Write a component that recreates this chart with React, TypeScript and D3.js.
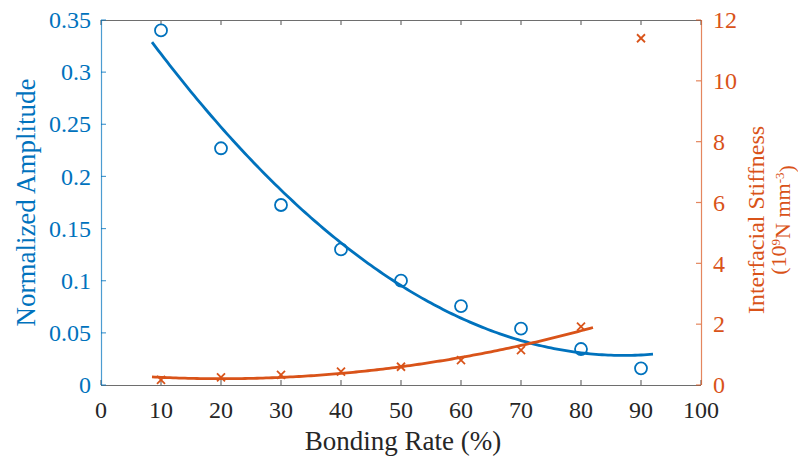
import React from "react";
import * as d3 from "d3";

// Bonding rate (%) at which each specimen was measured
const bondingRate = [10, 20, 30, 40, 50, 60, 70, 80, 90];
// Normalized amplitude (left axis)
const amplitude = [0.34, 0.227, 0.1726, 0.13, 0.1, 0.0757, 0.054, 0.0345, 0.016];
// Interfacial stiffness, 10^9 N mm^-3 (right axis)
const stiffness = [0.17, 0.25, 0.33, 0.44, 0.6, 0.82, 1.15, 1.92, 11.4];

const xTicks = [0, 10, 20, 30, 40, 50, 60, 70, 80, 90, 100];
const leftTicks = [0, 0.05, 0.1, 0.15, 0.2, 0.25, 0.3, 0.35];
const leftTickLabels = ["0", "0.05", "0.1", "0.15", "0.2", "0.25", "0.3", "0.35"];
const rightTicks = [0, 2, 4, 6, 8, 10, 12];

const W = 798;
const H = 458;
const M = { left: 101, right: 701, top: 20, bottom: 385 };

const BLUE = "#0072BD";
const ORANGE = "#D95319";
const font = { fontFamily: '"Liberation Serif", "Times New Roman", serif' };

// Least-squares quadratic fit y = a x^2 + b x + c
function polyfit2(xs: number[], ys: number[]) {
  const n = xs.length;
  const mx = d3.mean(xs) as number;
  const t = xs.map((x) => x - mx);
  let s1 = 0, s2 = 0, s3 = 0, s4 = 0, sy = 0, sty = 0, st2y = 0;
  t.forEach((ti, i) => {
    s1 += ti; s2 += ti * ti; s3 += ti ** 3; s4 += ti ** 4;
    sy += ys[i]; sty += ti * ys[i]; st2y += ti * ti * ys[i];
  });
  // Normal equations solved with Cramer's rule
  const A = [
    [s4, s3, s2],
    [s3, s2, s1],
    [s2, s1, n],
  ];
  const B = [st2y, sty, sy];
  const det = (m: number[][]) =>
    m[0][0] * (m[1][1] * m[2][2] - m[1][2] * m[2][1]) -
    m[0][1] * (m[1][0] * m[2][2] - m[1][2] * m[2][0]) +
    m[0][2] * (m[1][0] * m[2][1] - m[1][1] * m[2][0]);
  const D = det(A);
  const coef = [0, 1, 2].map((k) => {
    const Mk = A.map((row, r) => row.map((v, c) => (c === k ? B[r] : v)));
    return det(Mk) / D;
  });
  return (x: number) => coef[0] * (x - mx) ** 2 + coef[1] * (x - mx) + coef[2];
}

export default function App() {
  const x = d3.scaleLinear().domain([0, 100]).range([M.left, M.right]);
  const yL = d3.scaleLinear().domain([0, 0.35]).range([M.bottom, M.top]);
  const yR = d3.scaleLinear().domain([0, 12]).range([M.bottom, M.top]);

  const fitA = polyfit2(bondingRate, amplitude);
  const fitS = polyfit2(bondingRate.slice(0, 8), stiffness.slice(0, 8));

  const curveA = d3.range(8.5, 92.01, 0.5).map((v) => [v, fitA(v)] as [number, number]);
  const curveS = d3.range(8.5, 82.01, 0.5).map((v) => [v, fitS(v)] as [number, number]);

  const lineA = d3.line<[number, number]>().x((d) => x(d[0])).y((d) => yL(d[1]));
  const lineS = d3.line<[number, number]>().x((d) => x(d[0])).y((d) => yR(d[1]));

  const tickLen = 5;
  const cy = (M.top + M.bottom) / 2;
  const tickFs = 24;
  const labelFs = 27;

  return (
    <svg width={W} height={H} style={{ position: "absolute", left: 0, top: 0, background: "#fff" }}>
      {/* top and bottom axis lines */}
      <line x1={M.left} x2={M.right} y1={M.bottom + 0.5} y2={M.bottom + 0.5} stroke="#6e6e6e" strokeWidth={1.2} />
      <line x1={M.left} x2={M.right} y1={M.top + 0.5} y2={M.top + 0.5} stroke="#6e6e6e" strokeWidth={1.2} />
      {xTicks.map((t) => (
        <g key={"xt" + t}>
          <line x1={x(t)} x2={x(t)} y1={M.bottom} y2={M.bottom - tickLen} stroke="#6e6e6e" strokeWidth={1.2} />
          <line x1={x(t)} x2={x(t)} y1={M.top} y2={M.top + tickLen} stroke="#6e6e6e" strokeWidth={1.2} />
          <text x={x(t)} y={418} textAnchor="middle" fontSize={tickFs} fill="#262626" style={font}>
            {String(t)}
          </text>
        </g>
      ))}
      <text x={403} y={450} textAnchor="middle" fontSize={labelFs} fill="#262626" style={font}>
        Bonding Rate (%)
      </text>

      {/* left axis */}
      <line x1={M.left + 0.5} x2={M.left + 0.5} y1={M.top} y2={M.bottom} stroke={BLUE} strokeOpacity={0.7} strokeWidth={1.2} />
      {leftTicks.map((t, i) => (
        <g key={"yl" + t}>
          <line x1={M.left} x2={M.left + tickLen} y1={yL(t)} y2={yL(t)} stroke={BLUE} strokeOpacity={0.7} strokeWidth={1.2} />
          <text x={91} y={yL(t) + 8.2} textAnchor="end" fontSize={tickFs} fill={BLUE} style={font}>
            {leftTickLabels[i]}
          </text>
        </g>
      ))}
      <text
        transform={`translate(35,${cy}) rotate(-90)`}
        textAnchor="middle"
        fontSize={labelFs}
        fill={BLUE}
        style={font}
      >
        Normalized Amplitude
      </text>

      {/* right axis */}
      <line x1={M.right + 0.5} x2={M.right + 0.5} y1={M.top} y2={M.bottom} stroke={ORANGE} strokeOpacity={0.7} strokeWidth={1.2} />
      {rightTicks.map((t) => (
        <g key={"yr" + t}>
          <line x1={M.right} x2={M.right - tickLen} y1={yR(t)} y2={yR(t)} stroke={ORANGE} strokeOpacity={0.7} strokeWidth={1.2} />
          <text x={713} y={yR(t) + 8.2} textAnchor="start" fontSize={tickFs} fill={ORANGE} style={font}>
            {String(t)}
          </text>
        </g>
      ))}
      <text
        transform={`translate(764,220) rotate(-90)`}
        textAnchor="middle"
        fontSize={24}
        fill={ORANGE}
        style={font}
      >
        Interfacial Stiffness
      </text>
      <text
        transform={`translate(786,220) rotate(-90)`}
        textAnchor="middle"
        fontSize={22}
        fill={ORANGE}
        style={font}
      >
        (10
        <tspan dy="-0.45em" fontSize={13}>9</tspan>
        <tspan dy="0.45em">N mm</tspan>
        <tspan dy="-0.45em" fontSize={13}>-3</tspan>
        <tspan dy="0.45em">)</tspan>
      </text>

      {/* fitted curves */}
      <path d={lineA(curveA) || ""} fill="none" stroke={BLUE} strokeWidth={2.8} />
      <path d={lineS(curveS) || ""} fill="none" stroke={ORANGE} strokeWidth={2.8} />

      {/* measured amplitudes */}
      {bondingRate.map((b, i) => (
        <circle key={"c" + b} cx={x(b)} cy={yL(amplitude[i])} r={6} fill="none" stroke={BLUE} strokeWidth={1.8} />
      ))}
      {/* measured stiffness */}
      {bondingRate.map((b, i) => {
        const px = x(b);
        const py = yR(stiffness[i]);
        const s = 4;
        return (
          <g key={"x" + b} stroke={ORANGE} strokeWidth={1.8}>
            <line x1={px - s} y1={py - s} x2={px + s} y2={py + s} />
            <line x1={px - s} y1={py + s} x2={px + s} y2={py - s} />
          </g>
        );
      })}
    </svg>
  );
}
